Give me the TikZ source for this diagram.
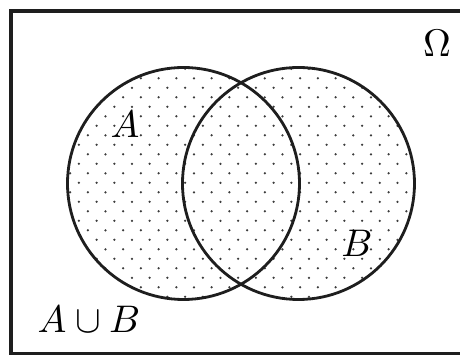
\documentclass[tikz,border=0pt]{standalone}
\definecolor{linecol}{HTML}{1E1E1E}
\definecolor{dotcol}{HTML}{3C3C3C}
\tikzset{
	setline/.style={draw=linecol,line width=0.8pt},
	dotmark/.style={fill=dotcol},
	setlabel/.style={anchor=base,inner sep=0pt,font=\fontsize{11}{13}\selectfont}
}

\begin{document}
\begin{tikzpicture}[x=0.1mm,y=-0.1mm]
\useasboundingbox (0,0) rectangle (460,355);
\clip (0,0) rectangle (460,355);
\draw[draw=linecol,line width=1.1pt] (520,11) -- (11,11) -- (11,354) -- (520,354);
\coordinate (cA) at (183.5,183.5);
\coordinate (cB) at (298.5,183.5);
\begin{scope}
	\clip (cA) circle (116) (cB) circle (116);
	\foreach \i in {-10,...,12}
	\foreach \j in {-6,...,8}{
		\fill[dotmark] (211.7+17.7*\i,154.3+19*\j) circle (1.25);
		\fill[dotmark] (202.8+17.7*\i,163.8+19*\j) circle (1.25);
	}
\end{scope}
\draw[setline] (cA) circle (116);
\draw[setline] (cB) circle (116);
\node[setlabel] (omega) at (437,57) {$\Omega$};
\node[setlabel] (labA) at (125,138) {$A$};
\node[setlabel] (labB) at (357,257) {$B$};
\node[setlabel] (union) at (89,333) {$A\cup B$};
\end{tikzpicture}
\end{document}
